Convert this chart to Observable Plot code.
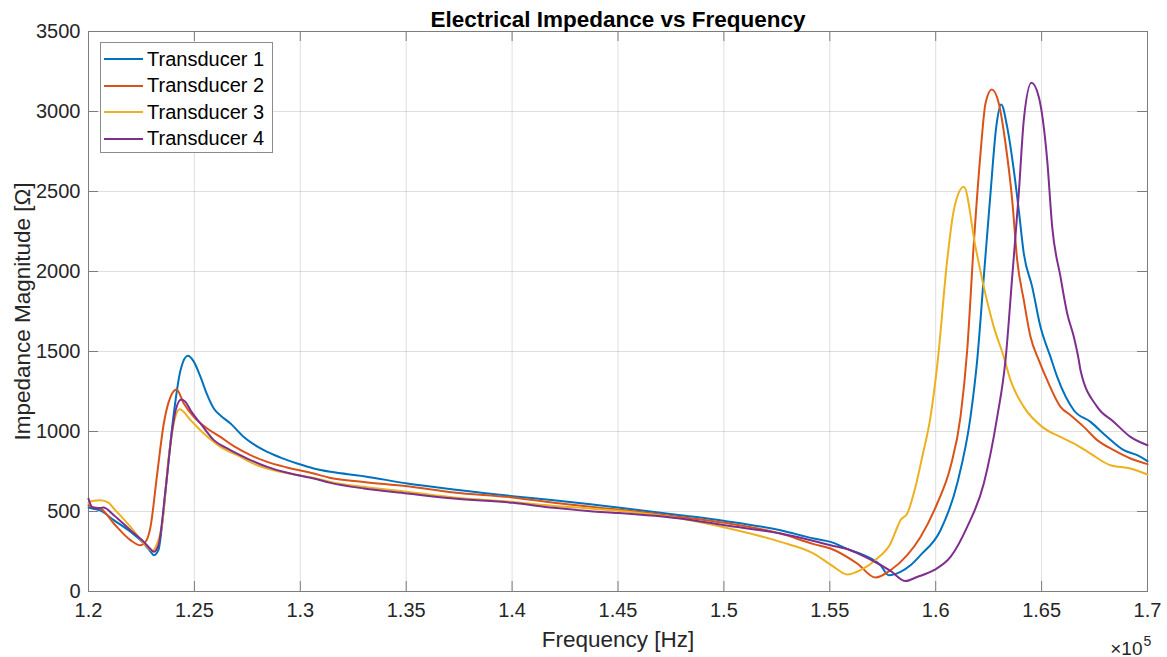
<!DOCTYPE html>
<html><head><meta charset="utf-8">
<script src="https://cdn.jsdelivr.net/npm/d3@7"></script>
<script src="https://cdn.jsdelivr.net/npm/@observablehq/plot@0.6"></script>
<style>
body{margin:0;background:#fff;font-family:"Liberation Sans",Arial,sans-serif;}
#wrap{position:relative;width:1167px;height:657px;}
#legend{position:absolute;left:100px;top:42px;width:173px;height:111px;border:1px solid #8c8c8c;background:#fff;padding-top:3px;box-sizing:border-box;}
.row{display:flex;align-items:center;height:26.5px;}
.sw{width:39px;height:2px;margin-left:3px;margin-right:4px;}
.lab{font-size:20px;color:#000;white-space:nowrap;}
</style>
</head><body>
<div id="wrap"></div>
<script>
const seriesNames = ["Transducer 1", "Transducer 2", "Transducer 3", "Transducer 4"];
const seriesColors = ["#0072BD", "#D95319", "#EDB120", "#7E2F8E"];
const xTicks = [120000,125000,130000,135000,140000,145000,150000,155000,160000,165000,170000];
const yTicks = [0,500,1000,1500,2000,2500,3000,3500];

const t1Freq = [120000,120175,120567,121195,121983,122611,122927,123083,123305,123480,123716,124027,124344,124688,124957,125288,125571,125916,126232,126704,127332,128277,129065,129854,130637,131426,132998,135047,137247,140033,141969,143702,145000,147951,150043,152673,154245,155033,155977,156605,157394,157786,158338,158810,159282,160227,161015,161643,161959,162271,162587,162857,163092,163376,163688,163923,164159,164556,164947,165420,165737,166521,167309,168098,168882,169514,170000];
const t1Z = [525,519,505,446,373,300,250,227,260,425,737,1112,1383,1473,1440,1341,1240,1144,1100,1050,966,883,837,800,769,748,721,675,638,596,571,546,525,477,441,383,331,310,258,227,164,102,123,164,227,383,675,1091,1446,1966,2488,2902,3044,2902,2633,2383,2113,1904,1654,1466,1341,1133,1060,966,883,852,815];

const t2Freq = [120000,120175,120567,121195,121983,122455,122738,122927,123244,123555,123872,124155,124500,124972,125604,126232,126860,127649,128437,129381,130637,131426,132998,135047,137247,140033,141969,143702,145000,147951,150043,152673,154245,155033,156293,157158,157866,158654,159282,160071,160699,161171,161487,161799,162115,162351,162649,162980,163296,163612,163848,164159,164476,164868,165264,165893,166365,166993,167625,168410,169197,170000];
const t2Z = [540,529,519,425,321,289,320,404,737,1050,1216,1262,1175,1091,1019,966,908,852,810,775,737,710,685,658,619,588,554,529,512,466,429,362,296,269,175,87,133,227,341,550,779,1091,1508,2175,2737,3050,3137,3050,2800,2446,2071,1821,1592,1446,1321,1154,1102,1029,946,883,831,796];

const t3Freq = [120000,120175,120567,120944,121195,121983,122771,123008,123211,123480,123791,124060,124311,124816,125444,126232,127021,127965,129065,130637,131426,132998,135047,137247,140033,141969,143702,145000,147951,150043,152673,154245,155189,155821,156449,157237,157866,158182,158338,158654,159046,159362,159754,160099,160543,160855,161327,161879,162271,162743,163216,163532,164159,165028,165893,166681,167309,168253,169197,170000];
const t3Z = [555,565,570,555,519,404,279,254,290,425,841,1071,1139,1071,987,904,852,789,748,710,685,654,623,588,560,535,519,504,456,400,310,237,154,106,133,206,300,400,446,487,654,841,1091,1446,2071,2383,2529,2154,1904,1654,1466,1321,1154,1029,966,914,862,789,769,731];

const t4Freq = [120000,120189,120425,120708,121195,121983,122611,122927,123083,123305,123636,123952,124108,124377,124580,124816,125288,125916,126549,127493,128437,129537,130637,131426,132998,135047,137247,140033,141969,143702,145000,147951,150043,152673,154245,155033,155977,156922,157866,158574,159126,159911,160699,161487,162271,162904,163296,163612,163923,164159,164523,164868,165264,165500,165893,166209,166521,166756,166837,167625,168410,169197,170000];
const t4Z = [580,525,520,525,477,383,310,265,248,290,633,1008,1130,1200,1185,1133,1050,946,894,831,779,737,706,679,644,613,581,554,523,502,491,456,414,362,316,289,258,200,129,66,91,133,216,404,675,1091,1446,1966,2488,2946,3179,3091,2696,2279,1966,1738,1592,1446,1383,1154,1060,966,914];

const freqs = [t1Freq, t2Freq, t3Freq, t4Freq];
const imps = [t1Z, t2Z, t3Z, t4Z];
const rows = [];
seriesNames.forEach((name, i) => {
  freqs[i].forEach((f, j) => rows.push({series: name, f, z: imps[i][j]}));
});

const ink = "#262626";
const box = "#7d7d7d";

const chart = Plot.plot({
  width: 1167,
  height: 657,
  marginLeft: 88,
  marginRight: 20,
  marginTop: 31,
  marginBottom: 66,
  style: {fontFamily: '"Liberation Sans", Arial, sans-serif', color: ink, background: "#fff", overflow: "visible"},
  x: {domain: [120000, 170000], label: null},
  y: {domain: [0, 3500], label: null},
  color: {domain: seriesNames, range: seriesColors},
  marks: [
    Plot.gridX(xTicks, {stroke: ink, strokeOpacity: 0.15}),
    Plot.gridY(yTicks, {stroke: ink, strokeOpacity: 0.15}),
    Plot.frame({stroke: box}),
    Plot.tickX(xTicks, {x: d => d, insetTop: 550, stroke: box}),
    Plot.tickX(xTicks, {x: d => d, insetBottom: 550, stroke: box}),
    Plot.tickY(yTicks, {y: d => d, insetRight: 1049, stroke: box}),
    Plot.tickY(yTicks, {y: d => d, insetLeft: 1049, stroke: box}),
    Plot.axisX(xTicks, {tickSize: 0, tickPadding: 11, fontSize: 20, fill: ink, label: null, tickFormat: d => String(+(d / 1e5).toFixed(2))}),
    Plot.axisY(yTicks, {tickSize: 0, tickPadding: 8, fontSize: 20, fill: ink, label: null, tickFormat: d => String(d)}),
    Plot.line(rows, {x: "f", y: "z", z: "series", stroke: "series", strokeWidth: 2, curve: "monotone-x"}),
    Plot.text(["Electrical Impedance vs Frequency"], {frameAnchor: "top", lineAnchor: "middle", textAnchor: "middle", dy: -12, fontSize: 22.5, fontWeight: "bold", fill: "#000"}),
    Plot.text(["Frequency [Hz]"], {frameAnchor: "bottom", lineAnchor: "middle", textAnchor: "middle", dy: 48.5, fontSize: 22.5, fill: ink}),
    Plot.text(["Impedance Magnitude [Ω]"], {frameAnchor: "left", lineAnchor: "middle", textAnchor: "middle", dx: -66, rotate: -90, fontSize: 22.5, fill: ink}),
    Plot.text(["×10"], {frameAnchor: "bottom-right", lineAnchor: "middle", dx: -5, dy: 57.5, textAnchor: "end", fontSize: 19, fill: ink}),
    Plot.text(["5"], {frameAnchor: "bottom-right", lineAnchor: "middle", dx: -4, dy: 50, textAnchor: "start", fontSize: 14, fill: ink})
  ]
});

const wrap = document.getElementById("wrap");
wrap.appendChild(chart);

const legend = document.createElement("div");
legend.id = "legend";
seriesNames.forEach((name, i) => {
  const r = document.createElement("div");
  r.className = "row";
  const sw = document.createElement("div");
  sw.className = "sw";
  sw.style.background = seriesColors[i];
  const lab = document.createElement("span");
  lab.className = "lab";
  lab.textContent = name;
  r.appendChild(sw);
  r.appendChild(lab);
  legend.appendChild(r);
});
wrap.appendChild(legend);
</script>
</body></html>
